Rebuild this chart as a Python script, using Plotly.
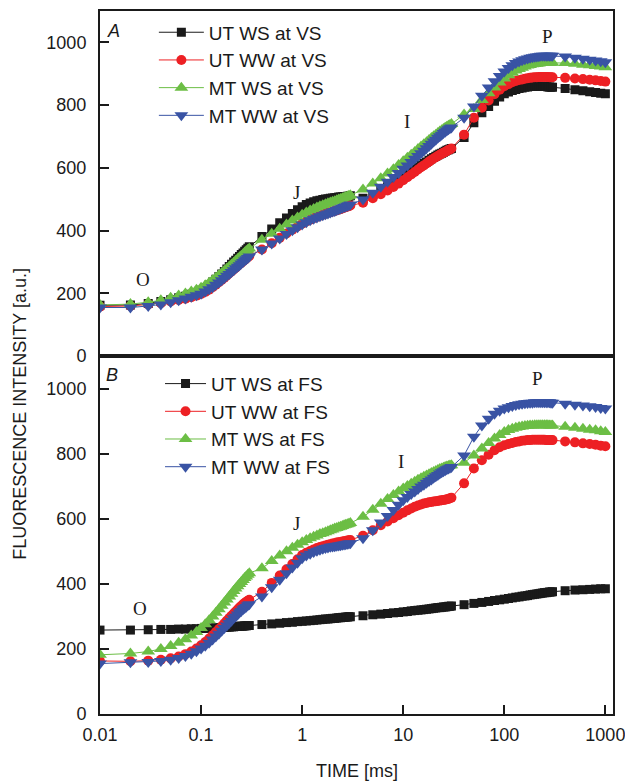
import math
import plotly.graph_objects as go

# ---------------- data ----------------
time_ms = [0.01, 0.02, 0.03, 0.04, 0.05, 0.06, 0.07, 0.08, 0.09, 0.10,
           0.11, 0.12, 0.13, 0.14, 0.15, 0.16, 0.17, 0.18, 0.19, 0.20,
           0.21, 0.22, 0.23, 0.24, 0.25, 0.26, 0.27, 0.28, 0.29, 0.30,
           0.4, 0.5, 0.6, 0.7, 0.8, 0.9, 1.0, 1.1, 1.2, 1.3, 1.4, 1.5, 1.6, 1.7,
           1.8, 1.9, 2.0, 2.1, 2.2, 2.3, 2.4, 2.5, 2.6, 2.7, 2.8, 2.9, 3.0,
           4, 5, 6, 7, 8, 9, 10, 11, 12, 13, 14, 15, 16, 17, 18, 19, 20,
           21, 22, 23, 24, 25, 26, 27, 28, 29, 30,
           40, 50, 60, 70, 80, 90, 100, 110, 120, 130, 140, 150, 160, 170,
           180, 190, 200, 210, 220, 230, 240, 250, 260, 270, 280, 290, 300,
           400, 500, 600, 700, 800, 900, 1000]

# Panel A (VS)
ut_ws_vs = [162, 163, 168, 174, 180, 186, 191, 197, 203, 210, 218, 227, 236, 245, 254, 262, 270, 278, 286, 293,
            300, 306, 312, 318, 324, 329, 334, 339, 344, 349,
            381, 405, 425, 440, 455, 467, 476, 483, 488, 492, 495, 497, 499, 501, 502, 503, 504, 505, 506, 507,
            507, 508, 509, 509, 510, 510, 511,
            503, 515, 528, 540, 551, 561, 570, 579, 587, 595, 602, 608, 614, 619, 624, 629, 633, 637, 641, 644,
            647, 650, 653, 656, 658, 660, 662,
            697, 744, 776, 796, 812, 826, 836, 842, 847, 850, 853, 855, 857, 858, 859, 859, 860, 860, 860, 860,
            859, 859, 859, 858, 858, 857, 857,
            853, 849, 846, 843, 840, 838, 836]
ut_ww_vs = [158, 160, 165, 169, 174, 179, 183, 188, 193, 198, 205, 212, 220, 228, 236, 243, 250, 257, 264, 270,
            276, 282, 288, 293, 298, 303, 307, 311, 315, 319,
            340, 360, 377, 391, 403, 413, 422, 429, 435, 440, 444, 448, 451, 454, 457, 459, 461, 463, 465, 467,
            469, 471, 473, 475, 477, 478, 480,
            489, 503, 516, 528, 539, 550, 561, 570, 579, 587, 595, 602, 608, 614, 620, 625, 630, 634, 638, 642,
            645, 648, 651, 654, 657, 659, 662,
            706, 760, 792, 815, 835, 849, 860, 867, 873, 877, 880, 882, 884, 886, 887, 888, 889, 889, 890, 890,
            890, 890, 890, 890, 889, 889, 889,
            887, 885, 883, 881, 879, 877, 875]
mt_ws_vs = [163, 166, 172, 178, 186, 193, 200, 206, 212, 218, 226, 234, 242, 250, 258, 265, 272, 279, 286, 292,
            298, 304, 310, 315, 320, 325, 330, 335, 339, 343,
            371, 390, 406, 420, 432, 442, 451, 458, 464, 469, 474, 478, 481, 484, 487, 490, 492, 494, 497, 499,
            501, 503, 505, 507, 509, 511, 513,
            531, 550, 567, 582, 596, 609, 621, 632, 642, 651, 660, 668, 675, 682, 689, 695, 701, 706, 711, 716,
            720, 724, 728, 731, 734, 737, 740,
            770, 788, 816, 838, 856, 872, 885, 895, 903, 910, 915, 919, 923, 926, 928, 930, 931, 932, 933, 934,
            934, 935, 935, 935, 935, 935, 935,
            934, 932, 929, 927, 925, 923, 921]
mt_ww_vs = [155, 155, 160, 165, 172, 178, 184, 189, 194, 199, 206, 213, 220, 228, 235, 242, 249, 256, 262, 268,
            274, 280, 285, 290, 295, 300, 305, 309, 313, 318,
            340, 359, 375, 389, 401, 411, 420, 427, 433, 438, 442, 446, 449, 452, 455, 458, 461, 463, 466, 468,
            471, 473, 475, 477, 479, 481, 483,
            499, 521, 540, 556, 571, 584, 597, 608, 619, 629, 638, 647, 655, 663, 670, 677, 684, 690, 696, 701,
            706, 711, 715, 719, 723, 726, 729,
            760, 796, 830, 856, 876, 893, 907, 918, 927, 934, 939, 943, 946, 949, 951, 953, 954, 955, 956, 957,
            957, 957, 957, 957, 957, 957, 957,
            955, 951, 948, 945, 942, 940, 937]

# Panel B (FS)
ut_ws_fs = [258, 258, 259, 260, 260, 261, 261, 262, 262, 263, 263, 264, 264, 265, 265, 266, 266, 267, 267, 268,
            268, 269, 269, 270, 270, 270, 271, 271, 272, 272,
            275, 277, 279, 281, 282, 284, 285, 286, 287, 288, 289, 290, 291, 292, 292, 293, 294, 294, 295, 296,
            296, 297, 297, 298, 298, 299, 299,
            302, 305, 307, 309, 311, 312, 314, 315, 317, 318, 319, 320, 321, 322, 323, 324, 325, 326, 327, 327,
            328, 329, 329, 330, 331, 331, 332,
            336, 340, 343, 346, 349, 351, 353, 355, 357, 359, 360, 362, 363, 364, 366, 367, 368, 369, 370, 371,
            372, 373, 373, 374, 375, 375, 376,
            379, 381, 382, 383, 384, 385, 385]
ut_ww_fs = [163, 162, 164, 167, 171, 177, 184, 192, 201, 211, 221, 232, 242, 252, 261, 270, 279, 287, 295, 302,
            309, 315, 321, 327, 332, 337, 341, 345, 348, 351,
            376, 403, 426, 445, 461, 476, 489, 496, 501, 506, 510, 513, 516, 518, 520, 522, 524, 525, 527, 528,
            529, 530, 531, 532, 533, 534, 535,
            548, 565, 580, 592, 602, 611, 619, 626, 632, 637, 641, 644, 647, 649, 651, 652, 653, 654, 655, 656,
            657, 658, 659, 660, 661, 663, 665,
            709, 755, 780, 797, 811, 820, 826, 830, 833, 836, 838, 840, 841, 842, 842, 843, 843, 843, 843, 843,
            843, 843, 842, 842, 842, 842, 842,
            838, 835, 832, 830, 828, 825, 823]
mt_ws_fs = [182, 186, 192, 200, 209, 219, 230, 241, 252, 264, 276, 288, 300, 311, 322, 333, 343, 352, 361, 370,
            378, 386, 393, 400, 406, 412, 418, 423, 428, 433,
            448, 470, 487, 500, 511, 520, 528, 535, 540, 545, 549, 553, 556, 559, 562, 565, 567, 570, 572, 574,
            576, 578, 580, 582, 583, 585, 587,
            606, 628, 646, 661, 673, 684, 693, 701, 708, 714, 720, 725, 729, 733, 737, 741, 744, 747, 750, 753,
            755, 757, 759, 761, 762, 764, 765,
            772, 795, 816, 833, 847, 858, 867, 873, 877, 880, 882, 884, 885, 886, 887, 887, 888, 888, 888, 888,
            888, 888, 888, 888, 887, 887, 887,
            883, 880, 877, 874, 872, 869, 867]
mt_ww_fs = [155, 159, 160, 163, 167, 172, 178, 185, 193, 201, 210, 219, 229, 238, 247, 256, 264, 272, 280, 287,
            294, 300, 306, 312, 317, 322, 326, 330, 334, 337,
            361, 390, 413, 433, 450, 465, 479, 487, 493, 498, 502, 505, 508, 510, 512, 514, 515, 516, 517, 518,
            519, 520, 521, 522, 523, 524, 525,
            540, 565, 589, 609, 627, 643, 657, 667, 676, 684, 692, 699, 705, 711, 716, 721, 726, 731, 735, 739,
            743, 746, 749, 752, 755, 757, 759,
            795, 852, 887, 908, 923, 932, 939, 943, 947, 950, 952, 954, 955, 956, 957, 957, 958, 958, 958, 958,
            958, 958, 958, 958, 958, 957, 957,
            954, 951, 948, 946, 944, 941, 939]

names_vs = ["UT WS at VS", "UT WW at VS", "MT WS at VS", "MT WW at VS"]
names_fs = ["UT WS at FS", "UT WW at FS", "MT WS at FS", "MT WW at FS"]
series_vs = [ut_ws_vs, ut_ww_vs, mt_ws_vs, mt_ww_vs]
series_fs = [ut_ws_fs, ut_ww_fs, mt_ws_fs, mt_ww_fs]

x_tick_vals = [0.01, 0.1, 1, 10, 100, 1000]
x_tick_text = ["0.01", "0.1", "1", "10", "100", "1000"]
y_tick_vals = [0, 200, 400, 600, 800, 1000]

# phase labels (time ms, intensity)
phase_labels = ["O", "J", "I", "P"]
phase_t_vs = [0.0266, 0.877, 11.0, 269]
phase_v_vs = [244, 522, 748, 1019]
phase_t_fs = [0.0248, 0.877, 9.56, 214]
phase_v_fs = [325, 586, 775, 1031]

# ---------------- styles ----------------
styles = [("#1a1a1a", "square", 9),
          ("#ed2024", "circle", 10),
          ("#6cbe45", "triangle-up", 12),
          ("#3953a4", "triangle-down", 12)]
FONT = "Liberation Sans, Arial, sans-serif"
INK = "#1a1a1a"

fig = go.Figure()
for name, vals, (c, sym, sz) in zip(names_vs, series_vs, styles):
    fig.add_trace(go.Scatter(x=time_ms, y=vals, name=name, mode="lines+markers",
                             xaxis="x2", yaxis="y2", legend="legend",
                             line=dict(color=c, width=1),
                             marker=dict(symbol=sym, size=sz, color=c, line=dict(width=0))))
for name, vals, (c, sym, sz) in zip(names_fs, series_fs, styles):
    fig.add_trace(go.Scatter(x=time_ms, y=vals, name=name, mode="lines+markers",
                             xaxis="x", yaxis="y", legend="legend2",
                             line=dict(color=c, width=1),
                             marker=dict(symbol=sym, size=sz, color=c, line=dict(width=0))))

xr = [math.log10(0.01), math.log10(1190)]


def axis(**kw):
    d = dict(showline=True, linecolor=INK, linewidth=2, mirror=True,
             ticks="inside", ticklen=9, tickwidth=1.5, tickcolor=INK,
             showgrid=False, zeroline=False, automargin=False,
             ticklabeloverflow="allow",
             tickfont=dict(family=FONT, size=18, color=INK))
    d.update(kw)
    return d


split = 0.509
fig.update_layout(
    width=625, height=784,
    margin=dict(l=100, r=12, t=11, b=70, autoexpand=False),
    paper_bgcolor="white", plot_bgcolor="white",
    xaxis=axis(type="log", range=xr, domain=[0, 1], anchor="y",
               tickvals=x_tick_vals, ticktext=x_tick_text, ticklabelstandoff=3),
    xaxis2=axis(type="log", range=xr, domain=[0, 1], anchor="y2",
                showticklabels=False, ticks=""),
    yaxis=axis(range=[0, 1100], domain=[0, split], anchor="x",
               tickvals=y_tick_vals, ticklabelstandoff=8),
    yaxis2=axis(range=[0, 1100], domain=[split, 1], anchor="x2",
                tickvals=y_tick_vals, ticklabelstandoff=8),
    legend=dict(x=0.105, y=0.9966, xanchor="left", yanchor="top",
                bgcolor="rgba(0,0,0,0)", itemwidth=45, tracegroupgap=0,
                font=dict(family=FONT, size=19, color=INK)),
    legend2=dict(x=0.117, y=0.4968, xanchor="left", yanchor="top",
                 bgcolor="rgba(0,0,0,0)", itemwidth=41, tracegroupgap=0,
                 font=dict(family=FONT, size=19, color=INK)),
    showlegend=True,
)

anns = []
for lab, t, v in zip(phase_labels, phase_t_vs, phase_v_vs):
    anns.append(dict(x=math.log10(t), y=v, xref="x2", yref="y2", text=lab, showarrow=False,
                     font=dict(family="Liberation Serif, Times New Roman, serif", size=19, color=INK)))
for lab, t, v in zip(phase_labels, phase_t_fs, phase_v_fs):
    anns.append(dict(x=math.log10(t), y=v, xref="x", yref="y", text=lab, showarrow=False,
                     font=dict(family="Liberation Serif, Times New Roman, serif", size=19, color=INK)))
anns.append(dict(x=0.0254, y=0.971, xref="paper", yref="paper", text="<i>A</i>", showarrow=False,
                 xanchor="center", yanchor="middle",
                 font=dict(family=FONT, size=18, color=INK)))
anns.append(dict(x=0.0228, y=0.4826, xref="paper", yref="paper", text="<i>B</i>", showarrow=False,
                 xanchor="center", yanchor="middle",
                 font=dict(family=FONT, size=18, color=INK)))
anns.append(dict(x=-0.156, y=0.427, xref="paper", yref="paper", text="FLUORESCENCE INTENSITY [a.u.]",
                 textangle=-90, showarrow=False, xanchor="center", yanchor="middle",
                 font=dict(family=FONT, size=18, color=INK)))
anns.append(dict(x=0.5, y=-0.0807, xref="paper", yref="paper", text="TIME [ms]",
                 showarrow=False, xanchor="center", yanchor="middle",
                 font=dict(family=FONT, size=18, color=INK)))
fig.update_layout(annotations=anns)

fig.write_html("out.html")
